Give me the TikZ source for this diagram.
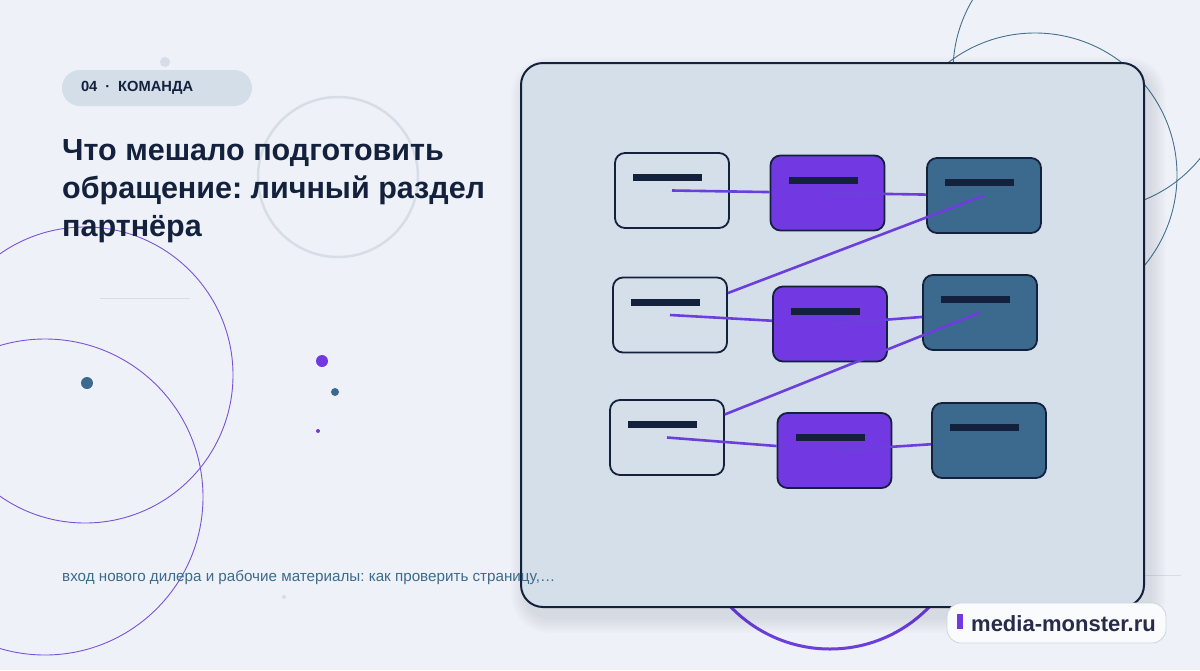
\documentclass[tikz,border=0pt]{standalone}
\usepackage{fontspec}
\setmainfont{Liberation Sans}
\usetikzlibrary{positioning, calc}
\definecolor{mm_bg}{HTML}{EEF2F8}
\definecolor{mm_panel}{HTML}{D5DFEA}
\definecolor{mm_navy}{HTML}{14213D}
\definecolor{mm_purple}{HTML}{7239E2}
\definecolor{mm_teal}{HTML}{3B6A8E}
\definecolor{mm_line}{HTML}{6C3EDB}
\definecolor{mm_ring}{HTML}{7A52D6}
\definecolor{mm_tealring}{HTML}{46708F}
\definecolor{mm_grey}{HTML}{D6DDE7}
\definecolor{mm_pill}{HTML}{D4DEE9}
\definecolor{mm_sub}{HTML}{3E6A8C}
\definecolor{mm_ink}{HTML}{2A2B48}
\frenchspacing

\begin{document}
\begin{tikzpicture}[x=1pt, y=-1pt,
      box/.style ={draw=mm_navy, line width=1.8pt, rounded corners=10pt, minimum width=114pt, minimum height=75pt, inner sep=0pt,
                   path picture={\fill[mm_navy, sharp corners] ($(path picture bounding box.north west)+(18,21)$) rectangle ++(69,7);}},
      wbox/.style={box, fill=mm_panel},
      pbox/.style={box, fill=mm_purple},
      tbox/.style={box, fill=mm_teal},
      link/.style={draw=mm_line, line width=2.6pt},
      ring/.style={line width=0.9pt}]
    % --- BACKGROUND: page, rings and dots ---
    \fill[mm_bg] (0,0) rectangle (1200,670);
    \useasboundingbox (0,0) rectangle (1200,670);
    \draw[mm_grey, line width=2.5pt] (338,177) circle (80pt);
    \draw[ring, mm_ring] (85,375) circle (148pt);
    \draw[ring, mm_ring] (45,497) circle (158pt);
    \draw[ring, mm_tealring] (1035,175) circle (142pt);
    \draw[ring, mm_tealring] (1092,71) circle (139pt);
    \draw[mm_line, line width=3pt] (830,511) circle (138pt);
    \draw[mm_grey, line width=1pt] (100,298) -- (190,298);
    \draw[mm_grey, line width=1pt] (1144,575) -- (1181,575);
    \fill[mm_grey] (165,62) circle (5pt);
    \fill[mm_grey] (284,597) circle (2pt);
    \fill[mm_teal] (87,383) circle (6pt);
    \fill[mm_purple] (322,361) circle (6pt);
    \fill[mm_teal] (335,392) circle (4pt);
    \fill[mm_purple] (318,431) circle (2pt);
    % --- LEFT: tag and title ---
    \node[fill=mm_pill, rounded corners=18pt, minimum height=36pt, text width=152pt, inner xsep=19pt, align=left,
          font=\fontsize{14.7}{17}\selectfont\bfseries, text=mm_navy] (tag) at (157,88)
      {04\hspace{8pt}·\hspace{8pt}КОМАНДА};
    \node[anchor=north west, inner sep=0pt, align=left, text=mm_navy,
          font=\fontsize{30.5}{38}\selectfont\bfseries] (title) at (62,139)
      {Что мешало подготовить\\обращение: личный раздел\\партнёра};
    % --- RIGHT: the board with three rows of steps ---
    \foreach \s in {1,...,8}
      \fill[mm_navy, opacity=0.012, rounded corners=22pt+\s*2pt] (521-\s*2+6, 63-\s*2+10) rectangle (1144+\s*2+6, 607+\s*2+10);
    \node[draw=mm_navy, line width=2pt, fill=mm_panel, rounded corners=22pt, minimum width=623pt, minimum height=544pt] (board) at (832.5,335) {};
    \node[wbox] (w1) at (672,190.5) {};
    \node[pbox] (p1) at (827.5,193) {};
    \node[tbox] (t1) at (984,195.5) {};
    \node[wbox] (w2) at (670,315) {};
    \node[pbox] (p2) at (830,324) {};
    \node[tbox] (t2) at (980,312.5) {};
    \node[wbox] (w3) at (667,437.5) {};
    \node[pbox] (p3) at (834.5,450.5) {};
    \node[tbox] (t3) at (989,440.5) {};
    \draw[link] (w1.center) -- (p1);
    \draw[link] (p1.center) -- (t1);
    \draw[link] (t1.center) -- (w2);
    \draw[link] (w2.center) -- (p2);
    \draw[link] (p2.center) -- (t2);
    \draw[link] (t2.center) -- (w3);
    \draw[link] (w3.center) -- (p3);
    \draw[link] (p3.center) -- (t3);
    % --- BOTTOM: lead line (runs onto the board) and site label ---
    \node[anchor=west, inner sep=0pt, text=mm_sub, font=\fontsize{15.2}{18}\selectfont] (lead) at (62,577)
      {вход нового дилера и рабочие материалы: как проверить страницу,…};
    \node[draw=mm_grey!80!mm_navy!60, fill=white!70!mm_bg, line width=0.8pt, rounded corners=14pt, minimum width=219pt, minimum height=40pt,
          font=\fontsize{22}{26}\selectfont\bfseries, text=mm_ink] (site) at (1056.5,623)
      {\textcolor{mm_purple}{\raisebox{2pt}{\rule{6pt}{15pt}}}\hspace{8pt}media-monster.ru};
  \end{tikzpicture}
\end{document}
